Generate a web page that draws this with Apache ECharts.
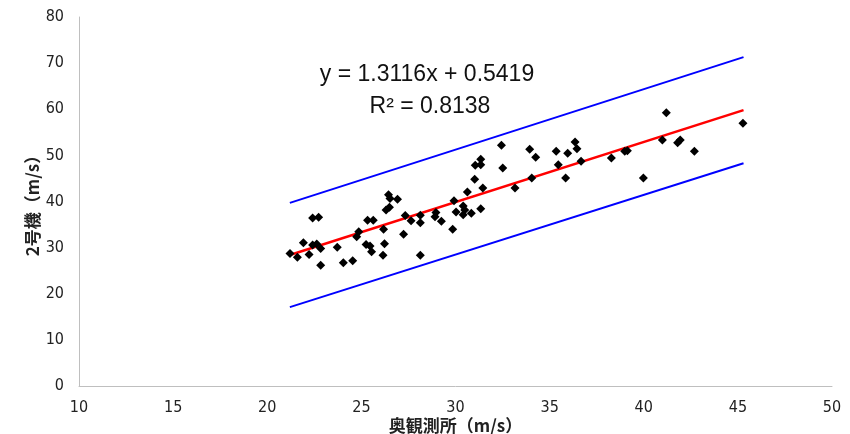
<!DOCTYPE html>
<html>
<head>
<meta charset="utf-8">
<script src="https://cdn.jsdelivr.net/npm/echarts@6/dist/echarts.min.js"></script>
<style>
  html, body { margin: 0; padding: 0; background: #fff; }
  #chart { width: 850px; height: 434px; }
</style>
</head>
<body>
<div id="chart"></div>
<script>
// scatter points: 奥観測所 (x) vs 2号機 (y)
const obsX = [21.21, 21.60, 21.92, 22.22, 22.41, 22.63, 22.84, 22.41, 22.73, 22.84,
  23.72, 24.04, 24.54, 24.86, 24.75, 25.33, 25.63, 25.25, 25.46, 25.54,
  26.23, 26.15, 26.18, 26.44, 26.52, 26.92, 26.31, 26.49, 27.24, 27.33,
  27.64, 28.13, 28.13, 28.13, 28.96, 28.91, 29.25, 29.85, 29.92, 30.03,
  30.41, 30.49, 30.41, 30.84, 30.63, 31.34, 31.45, 31.02, 31.05, 31.34,
  31.34, 32.44, 32.51, 33.16, 34.05, 33.94, 34.26, 35.35, 35.46, 35.85,
  35.96, 36.35, 36.45, 36.67, 38.28, 38.99, 39.13, 39.98, 40.99, 41.20,
  41.80, 41.94, 42.69, 45.27];
const unitY = [28.73, 27.90, 31.07, 28.51, 30.57, 30.79, 29.81, 36.42, 36.57, 26.17,
  30.07, 26.73, 27.17, 33.43, 32.37, 35.92, 35.92, 30.68, 30.35, 29.10,
  30.83, 28.34, 33.97, 41.47, 40.65, 40.48, 38.16, 38.74, 32.89, 36.96,
  35.84, 37.01, 35.40, 28.34, 37.62, 36.70, 35.71, 33.97, 40.17, 37.72,
  39.02, 38.16, 37.14, 37.44, 42.06, 38.44, 42.93, 44.81, 47.85, 47.98,
  49.15, 52.18, 47.26, 42.93, 45.10, 51.32, 49.58, 50.88, 47.98, 45.10,
  50.45, 52.90, 51.45, 48.72, 49.43, 50.88, 51.01, 45.10, 53.33, 59.25,
  52.75, 53.33, 50.88, 56.95];

// trend line and the two band lines (end points)
const lineX = [21.2, 45.3];
const trendY = [28.4, 59.8];
const upperY = [39.7, 71.3];
const lowerY = [17.1, 48.3];

const xTicks = [10, 50, 5];
const yTicks = [0, 80, 10];

const pts = obsX.map((x, i) => [x, unitY[i]]);
const pairs = ys => lineX.map((x, i) => [x, ys[i]]);

const labelFont = {
  color: '#222',
  fontSize: 16,
  fontFamily: '"DejaVu Sans Condensed", "Liberation Sans Narrow", "Liberation Sans", sans-serif'
};
const nameFont = {
  color: '#222',
  fontSize: 17,
  fontWeight: 'bold',
  fontFamily: '"Noto Sans CJK JP", sans-serif'
};
const eqFont = { fontSize: 23, fontWeight: 'normal', color: '#111', fontFamily: '"Liberation Sans", Arial, sans-serif' };

const chart = echarts.init(document.getElementById('chart'));
const option = {
  animation: false,
  backgroundColor: '#fff',
  grid: { left: 79, right: 18, top: 17, bottom: 48, containLabel: false, outerBoundsMode: 'none' },
  title: [
    { text: 'y = 1.3116x + 0.5419', left: 422, top: 58, textAlign: 'center', textStyle: eqFont },
    { text: 'R² = 0.8138', left: 425, top: 90, textAlign: 'center', textStyle: eqFont }
  ],
  xAxis: {
    type: 'value',
    min: xTicks[0], max: xTicks[1], interval: xTicks[2],
    name: '奥観測所（m/s）',
    nameLocation: 'middle',
    nameGap: 31,
    nameMoveOverlap: false,
    nameTextStyle: nameFont,
    axisLine: { onZero: false, lineStyle: { color: '#bfbfbf', width: 1 } },
    axisTick: { show: false },
    splitLine: { show: false },
    axisLabel: Object.assign({ margin: 14 }, labelFont)
  },
  yAxis: {
    type: 'value',
    min: yTicks[0], max: yTicks[1], interval: yTicks[2],
    name: '2号機（m/s）',
    nameLocation: 'middle',
    nameGap: 38,
    nameMoveOverlap: false,
    nameTextStyle: nameFont,
    axisLine: { show: true, lineStyle: { color: '#bfbfbf', width: 1 } },
    axisTick: { show: false },
    splitLine: { show: false },
    axisLabel: Object.assign({ margin: 15 }, labelFont)
  },
  series: [
    {
      type: 'line', data: pairs(upperY), symbol: 'none', silent: true,
      lineStyle: { color: '#0000ff', width: 2 }
    },
    {
      type: 'line', data: pairs(lowerY), symbol: 'none', silent: true,
      lineStyle: { color: '#0000ff', width: 2 }
    },
    {
      type: 'line', data: pairs(trendY), symbol: 'none', silent: true, z: 3,
      lineStyle: { color: '#ff0000', width: 2.5 }
    },
    {
      type: 'scatter', data: pts, symbol: 'diamond', symbolSize: 9, z: 4,
      itemStyle: { color: '#000', opacity: 1 }
    }
  ]
};
chart.setOption(option);
</script>
</body>
</html>
